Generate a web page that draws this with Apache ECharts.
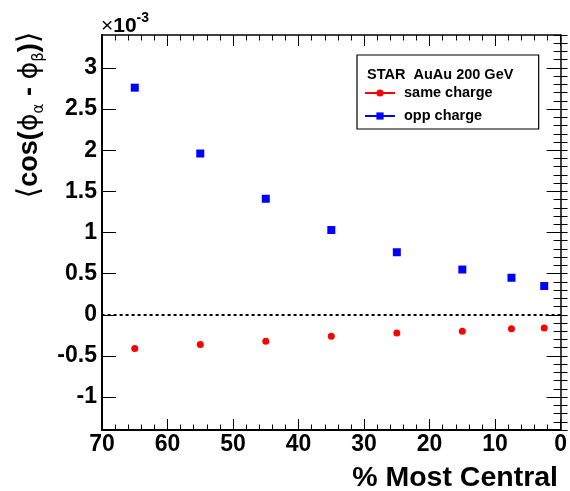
<!DOCTYPE html>
<html>
<head>
<meta charset="utf-8">
<script src="https://cdn.jsdelivr.net/npm/echarts@6.0.0/dist/echarts.min.js"></script>
<style>html,body{margin:0;padding:0;background:#fff;}#c{width:570px;height:491px;}</style>
</head>
<body>
<div id="c"></div>
<script>
const centrality = [65, 55, 45, 35, 25, 15, 7.5, 2.5];
const sameCharge = [-0.41, -0.36, -0.32, -0.26, -0.22, -0.20, -0.17, -0.16];
const oppCharge = [2.76, 1.96, 1.41, 1.03, 0.76, 0.55, 0.45, 0.35];
const yMajorTicks = [-1, -0.5, 0, 0.5, 1, 1.5, 2, 2.5, 3];
const xTickLabels = [0, 10, 20, 30, 40, 50, 60, 70];

const FONT = 'Liberation Sans, Arial, Helvetica, sans-serif';
const chart = echarts.init(document.getElementById('c'));

function yAxisPair(pos, withLabels) {
  return [
    {
      type: 'value', min: -1.4, max: 3.4, position: pos, gridIndex: 0,
      axisLine: { show: true, onZero: false, lineStyle: { color: '#000', width: pos === 'left' ? 2 : 1.5 } },
      axisTick: { show: true, inside: true, length: 14, customValues: yMajorTicks, lineStyle: { color: '#000', width: 1 } },
      axisLabel: { show: withLabels, customValues: yMajorTicks, color: '#000', fontSize: 23, fontWeight: 'bold', fontFamily: FONT, margin: 5 },
      splitLine: { show: false }
    },
    {
      type: 'value', min: -1.4, max: 3.4, interval: 0.1, position: pos, gridIndex: 0,
      axisLine: { show: false },
      axisTick: { show: true, inside: true, length: 7, lineStyle: { color: '#000', width: 1 } },
      axisLabel: { show: false },
      splitLine: { show: false }
    }
  ];
}

function xAxisDef(pos, withLabels) {
  return {
    type: 'value', min: 0, max: 70, interval: 10, inverse: true, position: pos,
    axisLine: { show: true, onZero: false, lineStyle: { color: '#000', width: pos === 'bottom' ? 2 : 1.5 } },
    axisTick: { show: true, inside: true, length: 11, lineStyle: { color: '#000', width: 1 } },
    minorTick: { show: true, splitNumber: 5, length: 5.5, lineStyle: { color: '#000', width: 1 } },
    axisLabel: { show: withLabels, color: '#000', fontSize: 23, fontWeight: 'bold', fontFamily: FONT, margin: 3,
      formatter: v => xTickLabels.indexOf(v) >= 0 ? String(v) : '' },
    splitLine: { show: false }, minorSplitLine: { show: false }
  };
}

chart.setOption({
  animation: false,
  backgroundColor: '#fff',
  grid: { left: 102, right: 6, top: 35, bottom: 61 },
  xAxis: [xAxisDef('bottom', true), xAxisDef('top', false)],
  yAxis: [...yAxisPair('left', true), ...yAxisPair('right', false)],
  title: {
    text: 'STAR  AuAu 200 GeV', left: 362, top: 62,
    textStyle: { fontSize: 14.5, fontWeight: 'bold', color: '#000', fontFamily: FONT }
  },
  legend: {
    orient: 'vertical', left: 357, top: 55,
    padding: [30, 46, 5, 7],
    borderColor: '#000', borderWidth: 1.2,
    itemWidth: 30, itemHeight: 9, itemGap: 7,
    selectedMode: false,
    textStyle: { fontSize: 14.5, fontWeight: 'bold', color: '#000', fontFamily: FONT, padding: [0, 0, 0, 4], lineHeight: 16 },
    data: [
      { name: 'same charge', lineStyle: { color: '#ff0000', width: 2, opacity: 1 } },
      { name: 'opp charge', lineStyle: { color: '#0000ff', width: 2, opacity: 1 } }
    ]
  },
  graphic: [
    {
      type: 'text', x: 30, y: 115, rotation: Math.PI / 2,
      style: {
        text: '{b|⟨}{a|cos(}{p|ϕ}{s|α}{a| - }{p|ϕ}{s|β}{a|)}{b|⟩}',
        align: 'center', verticalAlign: 'middle',
        rich: {
          a: { fontSize: 27, fontWeight: 'bold', fontFamily: FONT, fill: '#000', lineHeight: 34, verticalAlign: 'middle' },
          b: { fontSize: 30, fontWeight: 'normal', fontFamily: 'DejaVu Sans', fill: '#000', lineHeight: 34, verticalAlign: 'middle' },
          p: { fontSize: 27, fontWeight: 'normal', fontFamily: 'DejaVu Sans', fill: '#000', lineHeight: 34, verticalAlign: 'middle' },
          s: { fontSize: 15, fontFamily: 'DejaVu Sans', fill: '#000', lineHeight: 15, verticalAlign: 'bottom' }
        }
      }
    },
    {
      type: 'text', x: 101, y: 24,
      style: {
        text: '{x|×}{a|10}{b|-3}', align: 'left', verticalAlign: 'middle',
        rich: {
          x: { fontSize: 21, fontWeight: 'normal', fontFamily: FONT, fill: '#000', lineHeight: 26, verticalAlign: 'bottom' },
          a: { fontSize: 21, fontWeight: 'bold', fontFamily: FONT, fill: '#000', lineHeight: 26, verticalAlign: 'bottom' },
          b: { fontSize: 14, fontWeight: 'bold', fontFamily: FONT, fill: '#000', lineHeight: 26, verticalAlign: 'top' }
        }
      }
    },
    {
      type: 'text', x: 558, y: 478,
      style: { text: '% Most Central', align: 'right', verticalAlign: 'middle', fontSize: 28.5, fontWeight: 'bold', fontFamily: FONT, fill: '#000' }
    }
  ],
  series: [
    {
      name: 'same charge', type: 'line', xAxisIndex: 0, yAxisIndex: 0,
      data: centrality.map((c, i) => [c, sameCharge[i]]),
      symbol: 'circle', symbolSize: 7, showAllSymbol: true,
      itemStyle: { color: '#ff0000' },
      lineStyle: { width: 0, opacity: 0 }
    },
    {
      name: 'opp charge', type: 'line', xAxisIndex: 0, yAxisIndex: 0,
      data: centrality.map((c, i) => [c, oppCharge[i]]),
      symbol: 'rect', symbolSize: 8, showAllSymbol: true,
      itemStyle: { color: '#0000ff' },
      lineStyle: { width: 0, opacity: 0 },
      markLine: {
        silent: true, symbol: 'none', label: { show: false },
        lineStyle: { color: '#000', width: 2, type: [3, 3] },
        data: [{ yAxis: 0 }]
      }
    }
  ]
});
</script>
</body>
</html>
